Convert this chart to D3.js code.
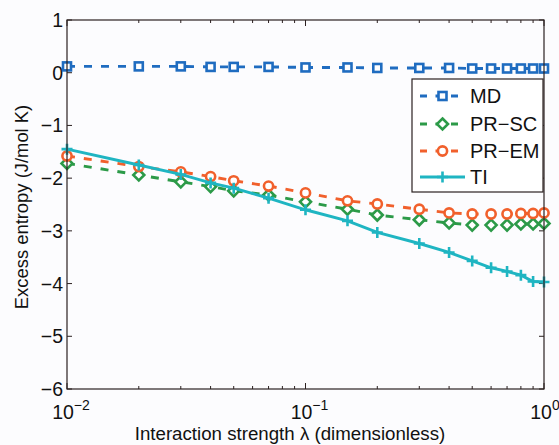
<!DOCTYPE html>
<html><head><meta charset="utf-8">
<script src="https://cdn.jsdelivr.net/npm/d3@7"></script>
<style>
body{margin:0;background:#fcfcfe;}
text{font-family:"Liberation Sans",Arial,Helvetica,sans-serif;fill:#111;}
</style></head>
<body><svg id="c" width="559" height="445"></svg>
<script>
const lambda = [0.01,0.02,0.03,0.04,0.05,0.07,0.1,0.15,0.2,0.3,0.4,0.5,0.6,0.7,0.8,0.9,1.0];
const md    = [0.12,0.12,0.12,0.11,0.11,0.11,0.10,0.10,0.09,0.09,0.09,0.08,0.08,0.08,0.08,0.08,0.08];
const prSC  = [-1.72,-1.94,-2.07,-2.16,-2.24,-2.32,-2.45,-2.59,-2.70,-2.79,-2.85,-2.89,-2.89,-2.89,-2.87,-2.87,-2.86];
const prEM  = [-1.58,-1.78,-1.88,-1.97,-2.05,-2.15,-2.28,-2.43,-2.49,-2.59,-2.66,-2.68,-2.68,-2.68,-2.67,-2.67,-2.66];
const ti    = [-1.45,-1.75,-1.93,-2.09,-2.19,-2.38,-2.60,-2.81,-3.03,-3.24,-3.41,-3.57,-3.70,-3.77,-3.84,-3.96,-3.97];
const yTicks = [1,0,-1,-2,-3,-4,-5,-6];
const xTicks = [0.01,0.1,1];
const xTickExp = ["−2","−1","0"];
const seriesNames = ["MD","PR−SC","PR−EM","TI"];
const seriesColors = ["#1f6cc0","#2c9a48","#f1602c","#1fb5c2"];

const svg = d3.select("#c");
const L=67,R=544,T=20,B=389;
const x = d3.scaleLog().domain([0.01,1]).range([L,R]);
const y = d3.scaleLinear().domain([-6,1]).range([B,T]);
const axisCol="#2b2020";

const g = svg.append("g");
const minor=[];
[0.01,0.1].forEach(d=>{for(let k=2;k<=9;k++)minor.push(d*k);});
minor.forEach(v=>{
  g.append("line").attr("x1",x(v)).attr("x2",x(v)).attr("y1",B).attr("y2",B-3).attr("stroke",axisCol);
  g.append("line").attr("x1",x(v)).attr("x2",x(v)).attr("y1",T).attr("y2",T+3).attr("stroke",axisCol);
});
xTicks.forEach((v,i)=>{
  g.append("line").attr("x1",x(v)).attr("x2",x(v)).attr("y1",B).attr("y2",B-6).attr("stroke",axisCol);
  g.append("line").attr("x1",x(v)).attr("x2",x(v)).attr("y1",T).attr("y2",T+6).attr("stroke",axisCol);
  const t=g.append("text").attr("x",x(v)+(i===2?1:4)).attr("y",B+30).attr("text-anchor","middle").attr("font-size",19.5);
  t.append("tspan").text("10");
  t.append("tspan").attr("dy",-9).attr("font-size",14).text(xTickExp[i]);
});
yTicks.forEach(v=>{
  g.append("line").attr("x1",L).attr("x2",L+5).attr("y1",y(v)).attr("y2",y(v)).attr("stroke",axisCol);
  g.append("line").attr("x1",R).attr("x2",R-5).attr("y1",y(v)).attr("y2",y(v)).attr("stroke",axisCol);
  g.append("text").attr("x",L-4).attr("y",y(v)+7).attr("text-anchor","end").attr("font-size",19.5)
   .text(v<0?"−"+Math.abs(v):String(v));
});

svg.append("text").attr("x",290).attr("y",440).attr("text-anchor","middle").attr("font-size",18.7)
  .text("Interaction strength λ (dimensionless)");
svg.append("text").attr("transform","translate(28,207) rotate(-90)").attr("text-anchor","middle").attr("font-size",18.4)
  .text("Excess entropy (J/mol K)");

const line = d3.line().x(d=>x(d[0])).y(d=>y(d[1]));
const data=[md,prSC,prEM,ti];
const dash=["8,9","8,9","8,9",null];
const markers=["square","diamond","circle","plus"];

function drawMarker(sel,type,col,cx,cy){
  if(type==="square") sel.append("rect").attr("x",cx-4).attr("y",cy-4).attr("width",8).attr("height",8).attr("fill","#fff").attr("stroke",col).attr("stroke-width",2.6);
  else if(type==="diamond") sel.append("path").attr("d",`M${cx},${cy-5.5}L${cx+5.5},${cy}L${cx},${cy+5.5}L${cx-5.5},${cy}Z`).attr("fill","#fff").attr("stroke",col).attr("stroke-width",2.6);
  else if(type==="circle") sel.append("circle").attr("cx",cx).attr("cy",cy).attr("r",4.6).attr("fill","#fff").attr("stroke",col).attr("stroke-width",2.6);
  else sel.append("path").attr("d",`M${cx-5.5},${cy}H${cx+5.5}M${cx},${cy-5.5}V${cy+5.5}`).attr("stroke",col).attr("stroke-width",2.6);
}

data.forEach((vals,i)=>{
  const pts=lambda.map((l,j)=>[l,vals[j]]);
  svg.append("path").attr("d",line(pts)).attr("fill","none").attr("stroke",seriesColors[i])
    .attr("stroke-width",2.9).attr("stroke-dasharray",dash[i]);
  const mg=svg.append("g");
  pts.forEach(p=>drawMarker(mg,markers[i],seriesColors[i],x(p[0]),y(p[1])));
});

svg.append("rect").attr("x",L).attr("y",T).attr("width",R-L).attr("height",B-T).attr("fill","none").attr("stroke",axisCol).attr("stroke-width",1.2);

const lg=svg.append("g");
lg.append("rect").attr("x",412).attr("y",79).attr("width",131).attr("height",113).attr("fill","#fff").attr("stroke",axisCol).attr("stroke-width",1.2);
const ly=[96,124,151,177];
seriesNames.forEach((n,i)=>{
  lg.append("line").attr("x1",420).attr("x2",465).attr("y1",ly[i]).attr("y2",ly[i]).attr("stroke",seriesColors[i])
   .attr("stroke-width",2.9).attr("stroke-dasharray",dash[i]?"7,8.5":null);
  drawMarker(lg,markers[i],seriesColors[i],442.5,ly[i]);
  lg.append("text").attr("x",470).attr("y",ly[i]+7).attr("font-size",20).text(n);
});
</script></body></html>
